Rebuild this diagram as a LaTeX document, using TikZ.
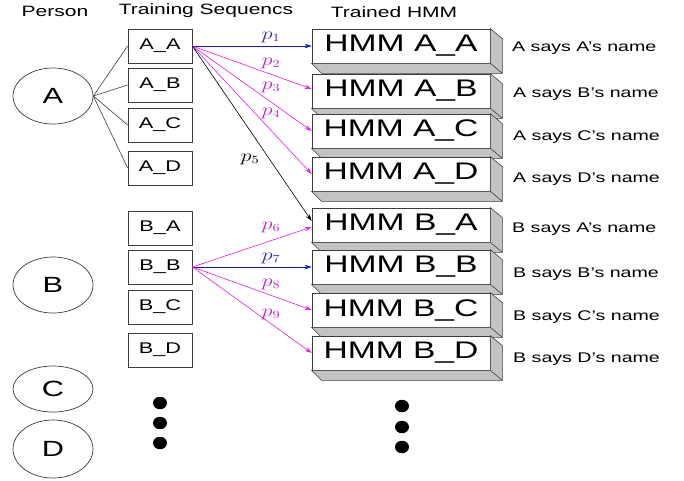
\documentclass[tikz,border=0pt]{standalone}
\usepackage{graphicx}
\usepackage{fontspec}
\setmainfont[FakeStretch=1.4]{Liberation Sans}
\usetikzlibrary{shapes.geometric,arrows.meta,calc}
\definecolor{arrowblue}{RGB}{20,20,200}
\definecolor{labblue}{RGB}{50,50,170}
\definecolor{arrowmag}{RGB}{225,30,225}
\definecolor{labmag}{RGB}{190,40,200}
\definecolor{edgegray}{RGB}{60,60,60}
\definecolor{sidegray}{RGB}{195,195,195}
\newcommand{\plabel}[1]{\scalebox{1.3}[1]{$#1$}}
\begin{document}
\begin{tikzpicture}[x=1pt,y=-1pt,
  person/.style={ellipse,draw=edgegray,line width=0.7pt,minimum width=80pt,minimum height=56pt,inner sep=0pt,font=\fontsize{22}{22}\selectfont},
  seqbox/.style={draw=edgegray,line width=0.7pt,minimum width=64pt,minimum height=34pt,inner sep=0pt,font=\fontsize{15.5}{15.5}\selectfont},
  hmmbox/.style={draw=edgegray,fill=white,line width=0.7pt,minimum width=178pt,minimum height=34pt,inner sep=0pt,font=\fontsize{24}{24}\selectfont},
  header/.style={font=\fontsize{15}{15}\selectfont},
  says/.style={anchor=west,inner sep=0pt,font=\fontsize{14}{14}\selectfont},
  plab/.style={font=\fontsize{16}{16}\selectfont,inner sep=0pt},
  link/.style={line width=0.6pt,draw=edgegray},
  arr/.style={line width=0.6pt,-{Stealth[length=7pt,width=4.5pt]}},
  dot/.style={ellipse,fill=black,inner sep=0pt,minimum width=14pt,minimum height=12.5pt}
]
\useasboundingbox (0,0) rectangle (684,480);

% column titles
\node[header] (hPerson) at (55,11) {Person};
\node[header] (hSeq) at (206,11) {Training Sequencs};
\node[header] (hHmm) at (394,12) {Trained HMM};

% persons
\node[person] (A) at (53,96) {A};
\node[person] (B) at (53,285) {B};
\node[person,minimum height=46pt] (C) at (53,389) {C};
\node[person,minimum height=58pt] (D) at (53,449) {D};

% training sequences
\node[seqbox] (sAA) at (160,46) {A\_A};
\node[seqbox] (sAB) at (160,85) {A\_B};
\node[seqbox] (sAC) at (160,125) {A\_C};
\node[seqbox] (sAD) at (160,168) {A\_D};
\node[seqbox] (sBA) at (160,228) {B\_A};
\node[seqbox] (sBB) at (160,267) {B\_B};
\node[seqbox] (sBC) at (160,307) {B\_C};
\node[seqbox] (sBD) at (160,350) {B\_D};

\foreach \s in {sAA,sAB,sAC,sAD}
  \draw[link] (A.east) -- (\s.west);

% trained models drawn as raised slabs
\newcommand{\hmmslab}[3]{%
  \node[hmmbox] (#1) at (401,#2) {#3};
  \draw[edgegray,line width=0.6pt,fill=sidegray]
    (#1.north east) -- ($(#1.north east)+(12,10)$) -- ($(#1.south east)+(12,10)$)
    -- ($(#1.south west)+(10,10)$) -- (#1.south west) -- (#1.south east) -- cycle;
  \draw[edgegray,line width=0.6pt] (#1.south east) -- ($(#1.south east)+(12,10)$);
}
\hmmslab{hAA}{46}{HMM A\_A}
\hmmslab{hAB}{91}{HMM A\_B}
\hmmslab{hAC}{131}{HMM A\_C}
\hmmslab{hAD}{174}{HMM A\_D}
\hmmslab{hBA}{225}{HMM B\_A}
\hmmslab{hBB}{267}{HMM B\_B}
\hmmslab{hBC}{310}{HMM B\_C}
\hmmslab{hBD}{353}{HMM B\_D}

% meanings
\node[says] (tAA) at (512,48) {A says A's name};
\node[says] (tAB) at (513,94) {A says B's name};
\node[says] (tAC) at (513,137) {A says C's name};
\node[says] (tAD) at (513,179) {A says D's name};
\node[says] (tBA) at (512,229) {B says A's name};
\node[says] (tBB) at (513,274) {B says B's name};
\node[says] (tBC) at (513,317) {B says C's name};
\node[says] (tBD) at (513,359) {B says D's name};

% scores of sequence A_A
\draw[arr,arrowblue] (sAA.east) -- (hAA.west);
\draw[arr,arrowmag] (sAA.east) -- ($(hAB.west)+(0,-2)$);
\draw[arr,arrowmag] (sAA.east) -- (hAC.west);
\draw[arr,arrowmag] (sAA.east) -- (hAD.west);
\draw[arr,black] (sAA.east) -- ($(hBA.west)+(0,-4)$);
\node[plab,text=labblue] (p1) at (271,37) {\plabel{p_1}};
\node[plab,text=labmag] (p2) at (271,63) {\plabel{p_2}};
\node[plab,text=labmag] (p3) at (271,87) {\plabel{p_3}};
\node[plab,text=labmag] (p4) at (271,113) {\plabel{p_4}};
\node[plab,text=black] (p5) at (250,159) {\plabel{p_5}};

% scores of sequence B_B
\draw[arr,arrowmag] (sBB.east) -- ($(hBA.west)+(0,2)$);
\draw[arr,arrowblue] (sBB.east) -- (hBB.west);
\draw[arr,arrowmag] (sBB.east) -- (hBC.west);
\draw[arr,arrowmag] (sBB.east) -- (hBD.west);
\node[plab,text=labmag] (p6) at (271,227) {\plabel{p_6}};
\node[plab,text=labblue] (p7) at (271,258) {\plabel{p_7}};
\node[plab,text=labmag] (p8) at (271,284) {\plabel{p_8}};
\node[plab,text=labmag] (p9) at (271,314) {\plabel{p_9}};

% continuation marks
\node[dot] (dl1) at (160,403) {};
\node[dot] (dl2) at (160,423) {};
\node[dot] (dl3) at (160,443) {};
\node[dot] (dr1) at (402,406) {};
\node[dot] (dr2) at (402,427) {};
\node[dot] (dr3) at (402,447) {};
\end{tikzpicture}
\end{document}
